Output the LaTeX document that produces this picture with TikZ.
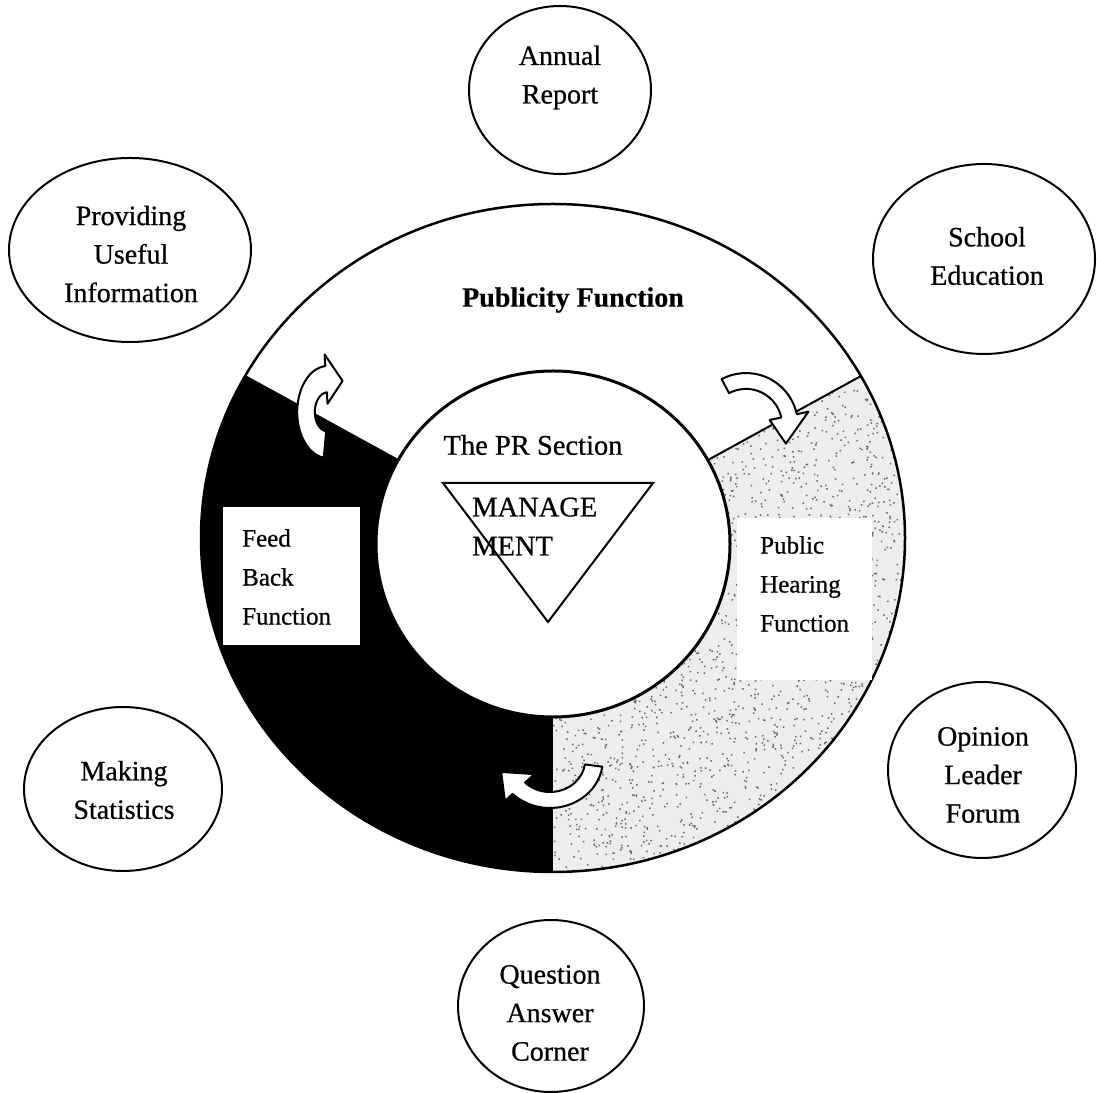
\documentclass[tikz,border=0pt]{standalone}
\usepackage{fontspec}
\setmainfont{Liberation Serif}
\newfontfamily\inkfont{Liberation Serif}[FakeBold=0.6]
\newfontfamily\inkboldfont{Liberation Serif Bold}[FakeBold=0.4]
\usetikzlibrary{shapes.geometric,calc}
\begin{document}
\begin{tikzpicture}[x=1pt,y=1pt,
  bubble/.style={draw, line width=2, ellipse, inner sep=0},
  lbl/.style={font=\inkfont\fontsize{28}{38.5}\selectfont, align=center, inner sep=0},
  sidelbl/.style={font=\inkfont\fontsize{25}{39}\selectfont, align=left, inner sep=0, anchor=west},
  blockarrow/.style={fill=white, draw=black, line width=2, line join=round},
  ringline/.style={line width=2.5}]
\useasboundingbox (0,0) rectangle (1097,1092);
\fill[white] (0,0) rectangle (1097,1092);

% centres of the ring
\coordinate (oc) at (553,554);
\coordinate (ic) at (553,548);

% feedback sector (black)
\fill[black] ($(oc)+(151:352 and 334)$) arc[start angle=151, end angle=270, x radius=352, y radius=334]
  -- ($(ic)+(270:177 and 173)$) arc[start angle=270, end angle=151, x radius=177, y radius=173] -- cycle;

% public hearing sector (stippled)
\begin{scope}
  \clip ($(oc)+(29:352 and 334)$) arc[start angle=29, end angle=-90, x radius=352, y radius=334]
    -- ($(ic)+(-90:177 and 173)$) arc[start angle=-90, end angle=29, x radius=177, y radius=173] -- cycle;
  \fill[black!7] (540,200) rectangle (920,730);
  \pgfmathsetseed{2024}
  \fill[black!60] \foreach \k in {1,...,3200}{ ({540+380*rnd},{200+530*rnd}) rectangle ++(1.5,1.5) };
\end{scope}

% ring outlines and dividers
\draw[ringline] (oc) ellipse[x radius=352, y radius=334];
\draw[line width=2] ($(ic)+(151:177 and 173)$) -- ($(oc)+(151:352 and 334)$);
\draw[line width=2] ($(ic)+(29:177 and 173)$) -- ($(oc)+(29:352 and 334)$);
\draw[line width=3, fill=white] (ic) ellipse[x radius=177, y radius=173];

% white label panels inside the ring
\node[fill=white, minimum width=137, minimum height=138, inner sep=0] (feedbox) at (291.5,516) {};
\node[fill=white, minimum width=135, minimum height=162, inner sep=0] (hearbox) at (804.5,493) {};

% management triangle
\coordinate (t1) at (443,609);
\coordinate (t2) at (653,609);
\coordinate (t3) at (548,470);
\draw[line width=2, line join=miter] (t1) -- (t2) -- (t3) -- cycle;

% curved block arrows
\begin{scope}[shift={(328,680)}, xscale=22, yscale=33]
  \filldraw[blockarrow] (262:1.4) arc[start angle=262, end angle=95, radius=1.4]
    -- (95:1.75) -- (55:1.15) -- (95:0.25) -- (95:0.6)
    arc[start angle=95, end angle=262, radius=0.6] -- cycle;
\end{scope}
\begin{scope}[shift={(746,667)}, xscale=44, yscale=44]
  \filldraw[blockarrow] (118:1.18) arc[start angle=118, end angle=12, radius=1.18]
    -- (12:1.45) -- (-25:1.0) -- (12:0.55) -- (12:0.82)
    arc[start angle=12, end angle=118, radius=0.82] -- cycle;
\end{scope}
\begin{scope}[shift={(550,332)}, xscale=44, yscale=40]
  \filldraw[blockarrow] (-8:1.2) arc[start angle=-8, end angle=-135, radius=1.2]
    -- (-135:1.45) -- (-165:1.15) -- (-135:0.5) -- (-135:0.8)
    arc[start angle=-135, end angle=-8, radius=0.8] -- cycle;
\end{scope}

% ring texts
\node[font=\inkboldfont\fontsize{28}{34}\selectfont, inner sep=0] (publicity) at (573,792) {Publicity Function};
\node[font=\inkfont\fontsize{28.5}{34}\selectfont, inner sep=0] (prsection) at (533,647) {The PR Section};
\node[font=\inkfont\fontsize{28.5}{39}\selectfont, align=left, inner sep=0, anchor=west] (manage) at (472,565.5) {MANAGE\\MENT};
\node[sidelbl] (feedtxt) at (242,515) {Feed\\Back\\Function};
\node[sidelbl] (heartxt) at (760,508) {Public\\Hearing\\Function};

% surrounding activities
\node[bubble, minimum width=182, minimum height=168] (annual) at (560,1002) {};
\node[bubble, minimum width=242, minimum height=184] (providing) at (130,842) {};
\node[bubble, minimum width=222, minimum height=190] (school) at (984,833) {};
\node[bubble, minimum width=198, minimum height=164] (making) at (123,303) {};
\node[bubble, minimum width=188, minimum height=176] (opinion) at (982,322) {};
\node[bubble, minimum width=186, minimum height=172] (question) at (551,86) {};

\node[lbl] (annualtxt) at (560,1014.5) {Annual\\Report};
\node[lbl] (providingtxt) at (131,838) {Providing\\Useful\\Information};
\node[lbl] (schooltxt) at (987,836) {School\\Education};
\node[lbl] (makingtxt) at (124,302) {Making\\Statistics};
\node[lbl] (opiniontxt) at (983,317) {Opinion\\Leader\\Forum};
\node[lbl] (questiontxt) at (550,79) {Question\\Answer\\Corner};
\end{tikzpicture}
\end{document}
